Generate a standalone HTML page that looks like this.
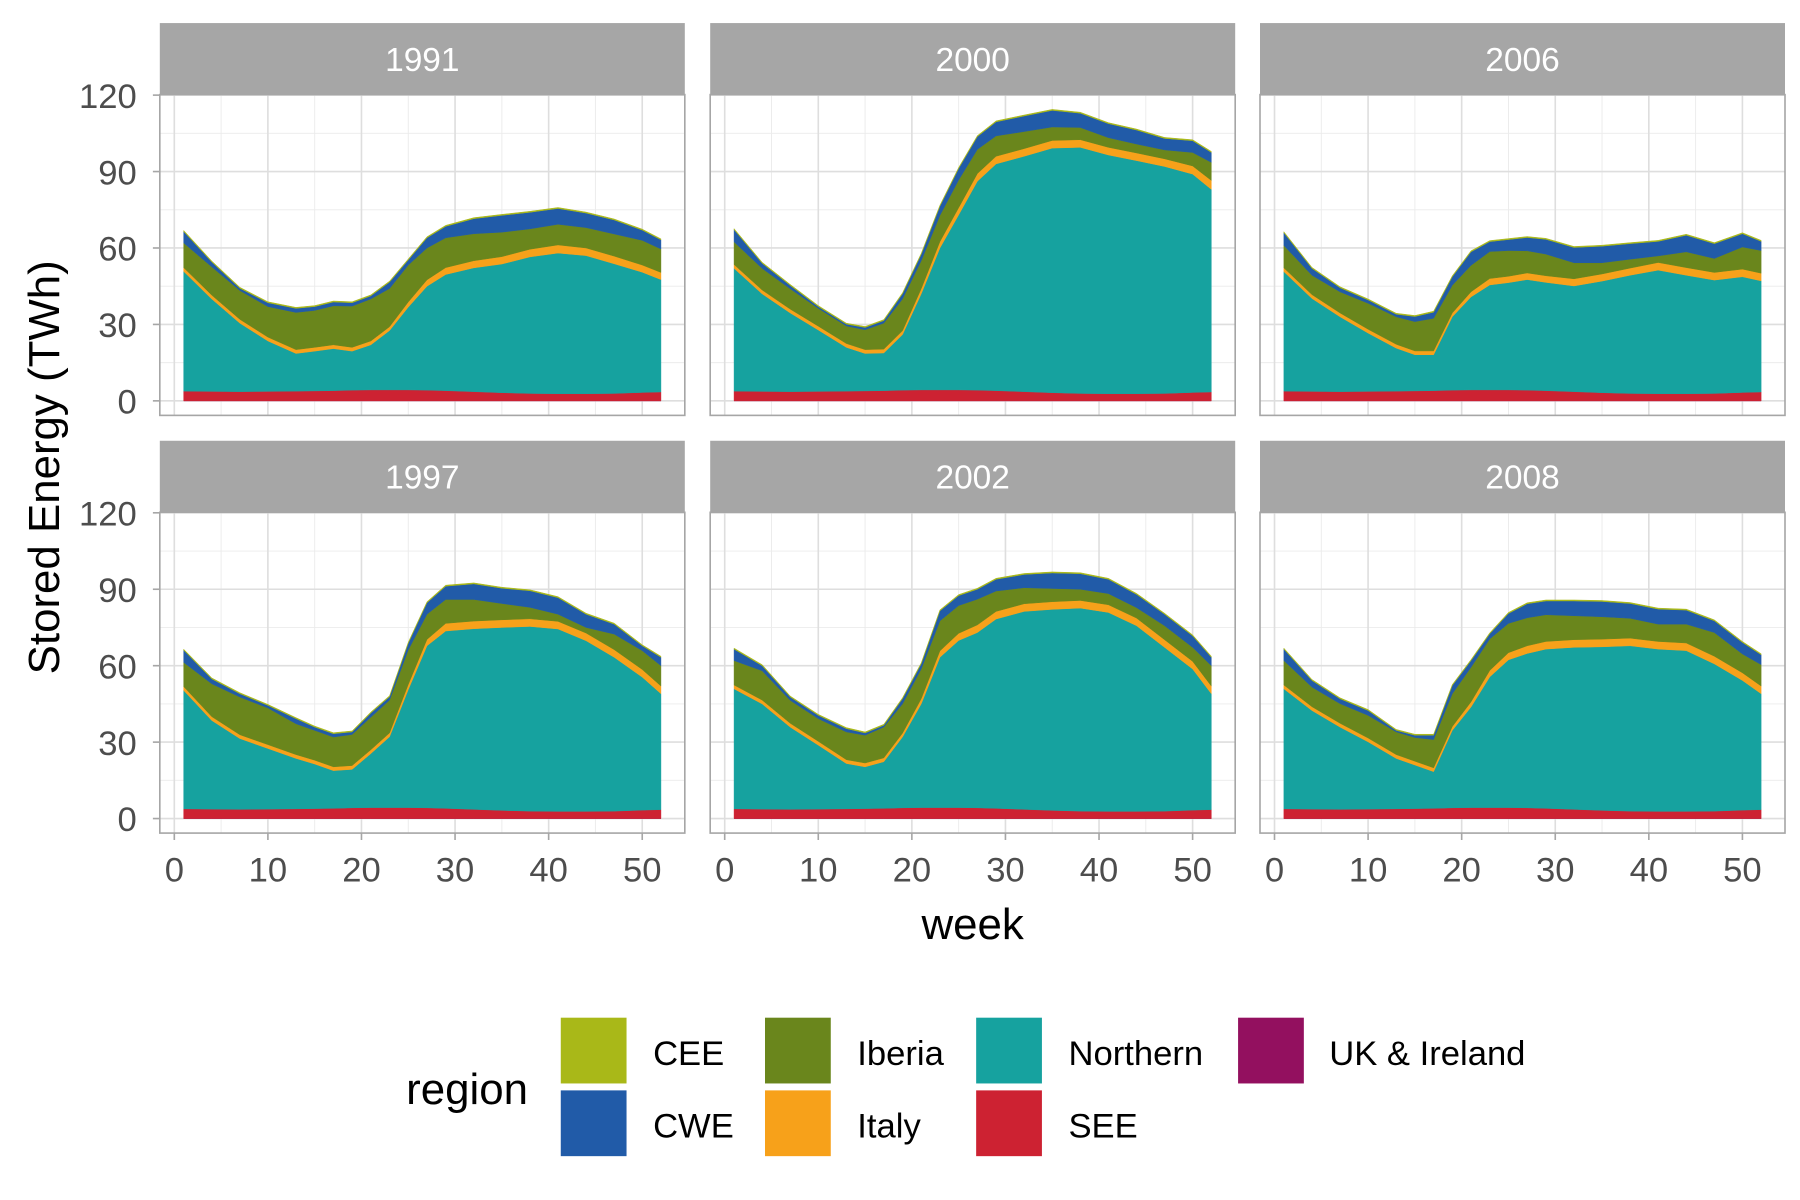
<!DOCTYPE html>
<html><head><meta charset="utf-8"><style>
html,body{margin:0;padding:0;background:#fff;}
svg{display:block;font-family:"Liberation Sans",Arial,sans-serif;}
</style></head><body>
<svg id="chart" width="1800" height="1200" viewBox="0 0 1560 1040" xmlns="http://www.w3.org/2000/svg">
<g id="panels"></g>
<text x="843" y="814" font-size="38" text-anchor="middle" fill="#000">week</text>
<text x="0" y="0" font-size="38" text-anchor="middle" fill="#000" transform="translate(51,405) rotate(-90)">Stored Energy (TWh)</text>
<g>
<text x="352" y="957" font-size="38" fill="#000">region</text>
<g id="legend-keys"></g>
</g>
</svg>
<script>
const weeks = [1,4,7,10,13,15,17,19,21,23,25,27,29,32,35,38,41,44,47,50,52];
const years = ["1991","2000","2006","1997","2002","2008"];
const regions = ["UK & Ireland","SEE","Northern","Italy","Iberia","CWE","CEE"];
const colors = {"CEE":"#a9b818","CWE":"#215ba8","Iberia":"#6a861c","Italy":"#f7a11a","Northern":"#16a29f","SEE":"#cd2232","UK & Ireland":"#93105f"};
const seeVals = [3.8,3.7,3.6,3.7,3.8,3.9,4.0,4.2,4.3,4.3,4.3,4.2,4.0,3.6,3.2,2.9,2.8,2.8,2.9,3.3,3.5];
const ukVals = [0,0,0,0,0,0,0,0,0,0,0,0,0,0,0,0,0,0,0,0,0];
const ceeVals = [0.4,0.4,0.4,0.4,0.4,0.4,0.4,0.4,0.4,0.4,0.4,0.4,0.4,0.4,0.4,0.4,0.4,0.4,0.4,0.4,0.4];
const northern1991 = [47.0,36.3,26.9,19.8,14.8,15.6,16.5,15.3,17.7,23.3,32.5,40.8,45.6,48.6,50.5,53.6,55.2,54.2,50.9,47.2,44.1];
const italy1991 = [1.5,1.5,1.5,1.5,1.5,1.5,1.5,1.5,1.5,1.5,2,2.5,2.7,2.8,2.9,3,3.2,3,3,2.8,2.8];
const iberia1991 = [9.7,11.1,11.3,12,14.6,14.5,15.3,16.2,16.5,15,14.5,12.5,11.7,10.6,9.6,8,8.1,8,8.7,9.7,9.2];
const cwe1991 = [4.5,1.9,0.9,1.5,1.6,1.5,1.5,1.3,1.2,2.5,2,4,4.5,5.9,6.6,6.5,6.2,5.7,5.5,4,3.6];
const northern2000 = [48.2,38.3,30.9,24.1,17.2,14.7,14.8,21.8,37.7,55.7,68.7,82,89,92.4,96,96.6,93.7,91.5,89.1,85.7,79.5];
const italy2000 = [1.5,1.5,1.5,1.5,1.5,1.5,1.5,1.5,2,2.5,2.8,3,3,3,3,3,3,3,3,3.2,3.5];
const iberia2000 = [8.9,8.5,8,7,6.9,7.8,10.2,12.5,11,10.3,10.9,9.5,8,6.7,5.3,4.8,3.8,3.5,3.5,5.3,7.1];
const cwe2000 = [4.8,2,1.3,0.7,0.7,0.9,1,2,2.5,3.6,4.5,5,5.5,6.1,6.5,5.6,5.5,5.5,4.5,4.6,3.9];
const northern2006 = [46.9,36.5,29.4,22.9,16.9,14.2,14.1,28.8,36.5,41.2,42.1,43.4,42.5,41.5,43.8,46.4,48.5,46.5,44.5,45.4,43.6];
const italy2006 = [1.5,1.5,1.5,1.5,1.5,1.5,1.5,1.5,2,2.5,2.5,2.6,2.6,2.8,2.8,2.8,3,3,3,3,3];
const iberia2006 = [8.8,7.6,8.3,10.2,10.8,11.5,12.8,10.9,10.4,10.6,10.1,8.7,8.5,6.3,4.4,3.5,2.6,6.2,5.5,8.7,8.9];
const cwe2006 = [5,2.7,1.6,1.3,1,2,2.4,3.3,5.3,3.9,4.3,5.2,5.8,6,6.5,6.1,5.7,6.5,5.8,5.2,3.6];
const northern1997 = [46.5,34.8,27.8,23.8,19.8,17.5,14.8,15.1,21.2,27.8,46.3,63.6,69.6,70.9,71.8,72.5,71.6,67,60.4,52.2,45.5];
const italy1997 = [1.5,1.5,1.5,1.5,1.5,1.5,1.5,1.5,1.5,1.5,2,2.5,3,3,3,3,3,3,3,3,3];
const iberia1997 = [9.5,12.9,14.8,14.4,12.1,11.7,11.7,12.2,12.8,12.9,13.6,9.9,9.4,8.5,6.4,4.5,2.8,2.2,6.1,7.4,8];
const cwe1997 = [4.8,1.9,1.3,1,2,1.3,1.3,1,1.6,1.3,2.6,4.5,5.2,6.1,6,6.5,6.5,5.2,3.9,1.9,3.3];
const northern2002 = [47.1,41.3,32.3,25.1,17.8,16.4,18.3,27.8,40.7,59,65.6,68.8,74.3,77.7,78.9,79.7,78.1,72.9,64.3,55.4,45.5];
const italy2002 = [1.5,1.5,1.5,1.5,1.5,1.5,1.5,1.5,2,2.5,2.8,3,3,3,3,3,3,3,3,3,3];
const iberia2002 = [9.6,11.5,9,8.9,10.9,10.9,12.1,11.5,11.7,11.8,10.9,10.1,8,6.3,5.2,4.4,4.4,4.1,5.5,5.5,8];
const cwe2002 = [4.5,2,1.3,1.3,1.3,0.9,0.7,2,2,3.9,3.9,3.9,4.6,5.2,6.1,6.1,5.6,5.2,4.5,4.5,3.3];
const northern2008 = [47.1,38.7,32.3,26.4,19.8,17.1,14.4,30.4,39.5,51.3,58,60.6,62.5,63.6,64.2,64.9,63.7,63.1,57.8,50.9,45.5];
const italy2008 = [1.5,1.5,1.5,1.5,1.5,1.5,1.5,1.5,2,2.5,2.8,3,3,3,3,3,3,3,3,3,3];
const iberia2008 = [9.6,7.7,7.7,8.9,8.9,9.3,11.1,12.9,13.6,12.4,11.5,11,10.5,9.4,8.8,7.8,6.8,7.4,9.3,7.4,8.4];
const cwe2008 = [4.5,2.6,1.9,1.9,0.6,0.9,1.7,3.2,2.6,2,3.9,5.5,5.4,5.8,6,5.8,5.9,5.5,4.6,4.5,3.9];
const yTicks = [0,30,60,90,120];
const xTicks = [0,10,20,30,40,50];

const seriesByYear = {
  "1991": {"UK & Ireland":ukVals,"SEE":seeVals,"Northern":northern1991,"Italy":italy1991,"Iberia":iberia1991,"CWE":cwe1991,"CEE":ceeVals},
  "2000": {"UK & Ireland":ukVals,"SEE":seeVals,"Northern":northern2000,"Italy":italy2000,"Iberia":iberia2000,"CWE":cwe2000,"CEE":ceeVals},
  "2006": {"UK & Ireland":ukVals,"SEE":seeVals,"Northern":northern2006,"Italy":italy2006,"Iberia":iberia2006,"CWE":cwe2006,"CEE":ceeVals},
  "1997": {"UK & Ireland":ukVals,"SEE":seeVals,"Northern":northern1997,"Italy":italy1997,"Iberia":iberia1997,"CWE":cwe1997,"CEE":ceeVals},
  "2002": {"UK & Ireland":ukVals,"SEE":seeVals,"Northern":northern2002,"Italy":italy2002,"Iberia":iberia2002,"CWE":cwe2002,"CEE":ceeVals},
  "2008": {"UK & Ireland":ukVals,"SEE":seeVals,"Northern":northern2008,"Italy":italy2008,"Iberia":iberia2008,"CWE":cwe2008,"CEE":ceeVals}
};

const NS = "http://www.w3.org/2000/svg";
function mk(tag, attrs, parent){ const e=document.createElementNS(NS,tag); for(const k in attrs) e.setAttribute(k,attrs[k]); if(parent) parent.appendChild(e); return e; }

const colLeft = [138.5, 615.5, 1092];
const rowTop = [20, 382];
const PW = 455, SH = 62, PH = 278;
const xMin = -1.55, xMax = 54.55, yMin = -5.7, yMax = 120.2;
const panelsG = document.getElementById('panels');

years.forEach((yr, idx) => {
  const c = idx % 3, r = Math.floor(idx / 3);
  const L = colLeft[c], T = rowTop[r] + SH;
  const xs = v => L + (v - xMin) / (xMax - xMin) * PW;
  const ys = v => T + PH - (v - yMin) / (yMax - yMin) * PH;
  const g = mk('g', {}, panelsG);
  
  
  const strip = mk('rect', {x:L, y:rowTop[r], width:PW, height:SH, fill:'#a6a6a6'}, g);
  
  
  const st = mk('text', {x:L+PW/2, y:rowTop[r]+SH/2+10.5, 'font-size':29, fill:'#fff', 'text-anchor':'middle'}, g);
  st.textContent = yr;
  
  
  const bg = mk('rect', {x:L, y:T, width:PW, height:PH, fill:'#fff'}, g);
  
  
  for (let v = 15; v < 120; v += 30) {
    const ln = mk('line', {x1:L, x2:L+PW, y1:ys(v), y2:ys(v), stroke:'#ebebeb', 'stroke-width':0.8}, g);
    
    
  }
  for (let v = 5; v < 55; v += 10) {
    const ln = mk('line', {x1:xs(v), x2:xs(v), y1:T, y2:T+PH, stroke:'#ebebeb', 'stroke-width':0.8}, g);
    
    
  }
  yTicks.forEach(v => {
    const ln = mk('line', {x1:L, x2:L+PW, y1:ys(v), y2:ys(v), stroke:'#dedede', 'stroke-width':1.4}, g);
    
    
  });
  xTicks.forEach(v => {
    const ln = mk('line', {x1:xs(v), x2:xs(v), y1:T, y2:T+PH, stroke:'#dedede', 'stroke-width':1.4}, g);
    
    
  });
  const data = seriesByYear[yr];
  let base = weeks.map(() => 0);
  regions.forEach(reg => {
    const vals = data[reg];
    const top = base.map((b, i) => b + vals[i]);
    let d = 'M' + weeks.map((w, i) => xs(w).toFixed(2) + ',' + ys(top[i]).toFixed(2)).join('L');
    for (let i = weeks.length - 1; i >= 0; i--) d += 'L' + xs(weeks[i]).toFixed(2) + ',' + ys(base[i]).toFixed(2);
    d += 'Z';
    const p = mk('path', {d:d, fill:colors[reg], stroke:colors[reg], 'stroke-width':0.4}, g);
    
    
    base = top;
  });
  const border = mk('rect', {x:L, y:T, width:PW, height:PH, fill:'none', stroke:'#a6a6a6', 'stroke-width':1.4}, g);
  
  
  if (c === 0) {
    yTicks.forEach(v => {
      const tk = mk('line', {x1:L-6, x2:L, y1:ys(v), y2:ys(v), stroke:'#a6a6a6', 'stroke-width':1.4}, g);
      
      
      const t = mk('text', {x:L-20, y:ys(v)+11, 'font-size':30, fill:'#4d4d4d', 'text-anchor':'end'}, g);
      t.textContent = v;
      
      
    });
  }
  if (r === 1) {
    xTicks.forEach(v => {
      const tk = mk('line', {x1:xs(v), x2:xs(v), y1:T+PH, y2:T+PH+6, stroke:'#a6a6a6', 'stroke-width':1.4}, g);
      
      
      const t = mk('text', {x:xs(v), y:764, 'font-size':30, fill:'#4d4d4d', 'text-anchor':'middle'}, g);
      t.textContent = v;
      
      
    });
  }
});

const legendItems = [
  ["CEE",486,882,566],["CWE",486,945,566],
  ["Iberia",663,882,743],["Italy",663,945,743],
  ["Northern",846,882,926],["SEE",846,945,926],
  ["UK & Ireland",1073,882,1152]
];
const lg = document.getElementById('legend-keys');
legendItems.forEach(it => {
  const g = mk('g', {}, lg);
  
  
  const k = mk('rect', {x:it[1], y:it[2], width:57, height:57, fill:colors[it[0]]}, g);
  
  
  const t = mk('text', {x:it[3], y:it[2]+41, 'font-size':30, fill:'#000'}, g);
  t.textContent = it[0];
  
  
});
</script>
</body></html>
